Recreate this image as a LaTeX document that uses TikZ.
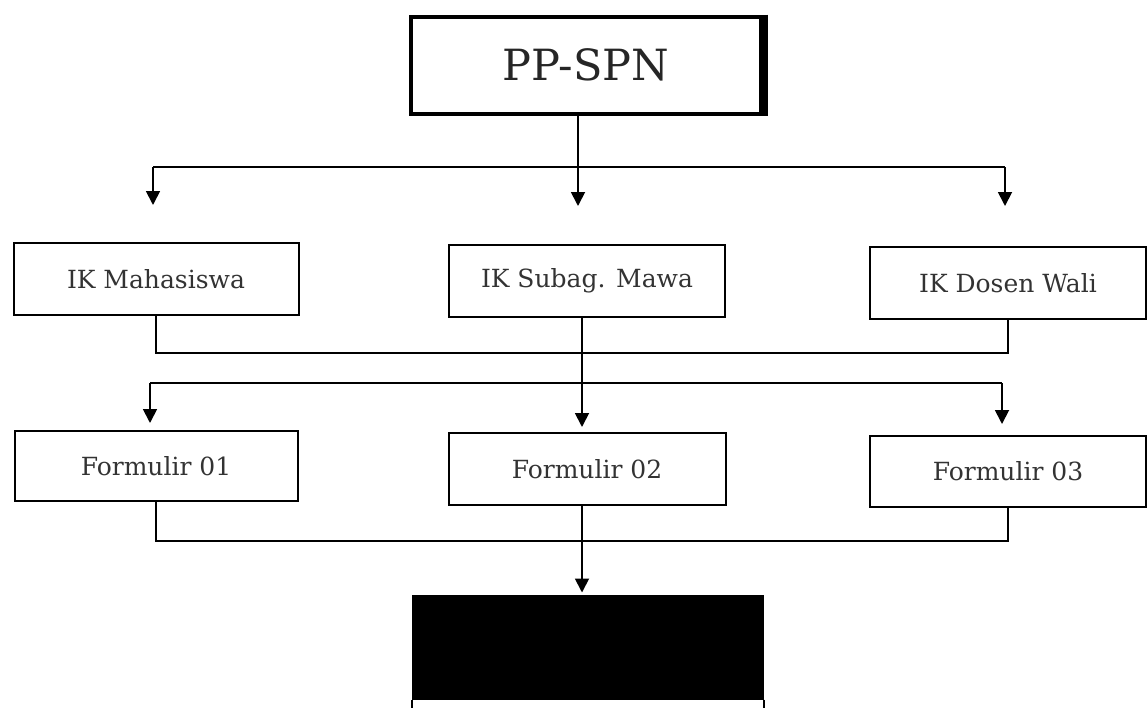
\documentclass[tikz,border=0pt]{standalone}
\usepackage{fontspec}
\setmainfont{DejaVu Serif}
\usetikzlibrary{arrows.meta,positioning}

\tikzset{
  box/.style={draw, line width=2pt, minimum width=285pt, minimum height=72pt,
    font=\fontsize{25}{30}\selectfont, text=black!80},
  link/.style={line width=1.8pt},
}

\begin{document}
\begin{tikzpicture}[x=1pt,y=-1pt,>={Triangle[length=14pt,width=14pt]}]
\useasboundingbox (0,0) rectangle (1148,707);

% kepala
\node[draw, line width=4pt, minimum width=351pt, minimum height=97pt,
  font=\fontsize{43}{50}\selectfont, text=black!85] (ppspn) at (586,65) {PP-SPN};
\draw[line width=9pt] (ppspn.north east) -- (ppspn.south east);

% baris instruksi kerja
\node[box, minimum width=285pt] (mhs) at (156,279) {IK Mahasiswa};
\node[box, minimum width=276pt] (subag) at (587,281) {IK Subag. Mawa};
\node[box, minimum width=276pt] (dosen) at (1008,283) {IK Dosen Wali};

% baris formulir
\node[box, minimum width=283pt, minimum height=70pt] (f1) at (156,466) {Formulir 01};
\node[box, minimum width=277pt] (f2) at (587,469) {Formulir 02};
\node[box, minimum width=276pt, minimum height=71pt] (f3) at (1008,471) {Formulir 03};

% kotak hasil
\node[draw, fill=black, line width=2pt, minimum width=350pt, minimum height=103pt] (hasil) at (588,647) {};
\draw[link] (hasil.south west) -- ++(0,9);
\draw[link] (hasil.south east) -- ++(0,9);

\coordinate (bus1) at (0,167);
\coordinate (bus2) at (0,353);
\coordinate (bus3) at (0,383);
\coordinate (bus4) at (0,541);
\coordinate (a1) at (153,205);
\coordinate (a2) at (578,206);
\coordinate (a3) at (1005,206);
\coordinate (b1) at (150,423);
\coordinate (b3) at (1002,424);
\coordinate (mid) at (582,0);

% dari PP-SPN ke IK
\draw[link] (ppspn.south -| a2) -- (a2 |- bus1);
\draw[link] (a1 |- bus1) -- (a3 |- bus1);
\foreach \t in {a1,a2,a3}
  {
  \draw[link,->] (\t |- bus1) -- (\t);
  }

% dari IK ke formulir
\draw[link] (mhs.south) -- (mhs.south |- bus2) -- (dosen.south |- bus2) -- (dosen.south);
\draw[link] (b1 |- bus3) -- (b3 |- bus3);
\foreach \t in {b1,b3}
  {
  \draw[link,->] (\t |- bus3) -- (\t);
  }
\draw[link,->,shorten >=5pt] (subag.south -| mid) -- (f2.north -| mid);

% dari formulir ke hasil
\draw[link] (f1.south) -- (f1.south |- bus4) -- (f3.south |- bus4) -- (f3.south);
\draw[link,->,shorten >=2pt] (f2.south -| mid) -- (hasil.north -| mid);

\end{tikzpicture}
\end{document}
